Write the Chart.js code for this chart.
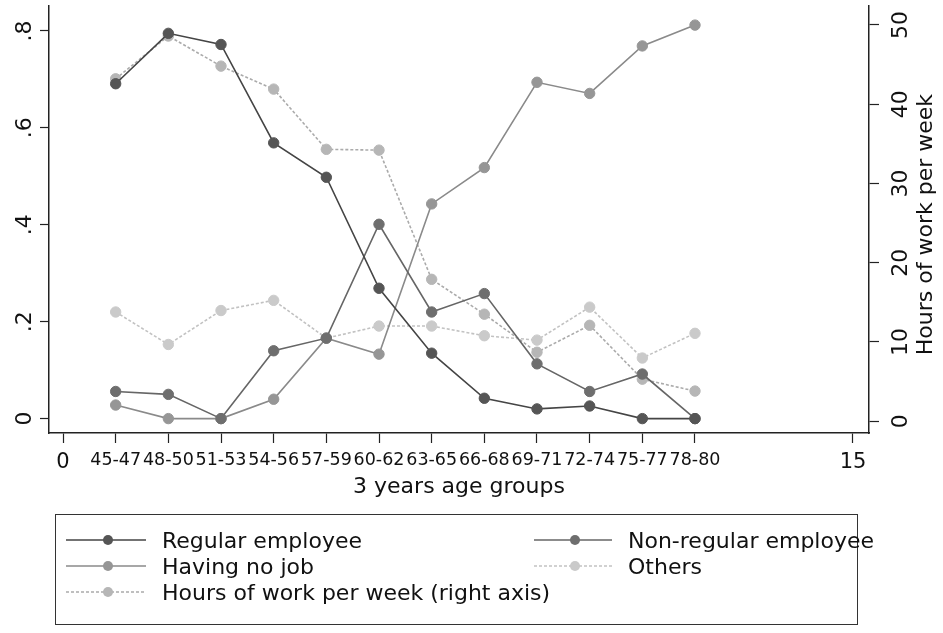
<!DOCTYPE html>
<html>
<head>
<meta charset="utf-8">
<script src="https://cdn.jsdelivr.net/npm/chart.js@4.4.1/dist/chart.umd.min.js"></script>
<style>
  html, body { margin:0; padding:0; background:#fff; }
  #wrap { position:relative; width:943px; height:633px; overflow:hidden; }
  #grafica { position:absolute; left:0; top:0; }
  #leyenda { position:absolute; left:55px; top:514px; width:803px; height:111px; border:1.5px solid #333;
             box-sizing:border-box; font-family:"DejaVu Sans"; font-size:22px; color:#111; }
  #leyenda .item { position:absolute; height:26px; display:flex; align-items:center; white-space:nowrap; }
  #leyenda svg { margin-right:16px; }
</style>
</head>
<body>
<div id="wrap">
  <canvas id="grafica" width="943" height="633"></canvas>
  <div id="leyenda"></div>
</div>
<script>
// datos
const gruposEdad = ['45-47','48-50','51-53','54-56','57-59','60-62','63-65','66-68','69-71','72-74','75-77','78-80'];
const regular    = [0.691, 0.795, 0.772, 0.569, 0.498, 0.269, 0.135, 0.042, 0.020, 0.026, 0.000, 0.000];
const noRegular  = [0.056, 0.050, 0.000, 0.140, 0.166, 0.401, 0.220, 0.258, 0.113, 0.056, 0.092, 0.000];
const sinTrabajo = [0.028, 0.000, 0.000, 0.040, 0.166, 0.133, 0.443, 0.518, 0.694, 0.671, 0.769, 0.812];
const otros      = [0.220, 0.153, 0.223, 0.244, 0.166, 0.191, 0.191, 0.171, 0.162, 0.230, 0.125, 0.176];
const horas      = [43.2, 48.6, 44.8, 41.9, 34.3, 34.2, 17.9, 13.5, 8.7, 12.1, 5.3, 3.8];

const ticksX = [0, 1, 2, 3, 4, 5, 6, 7, 8, 9, 10, 11, 12, 15];
const ticksIzq = [0, 0.2, 0.4, 0.6, 0.8];
const etiquetasIzq = ['0', '.2', '.4', '.6', '.8'];
const ticksDer = [0, 10, 20, 30, 40, 50];

const puntos = arr => arr.map((v, i) => ({x: i + 1, y: v}));

function serie(nombre, valores, linea, punto, dash, eje){
    return {
        label: nombre,
        data: puntos(valores),
        yAxisID: eje || 'y',
        borderColor: linea,
        borderWidth: 1.6,
        borderDash: dash || [],
        pointBackgroundColor: punto,
        pointBorderColor: punto,
        pointBorderWidth: 1,
        pointRadius: 5.2,
        tension: 0
    };
}

const series = [
    serie('Regular employee', regular, '#454545', '#555555'),
    serie('Non-regular employee', noRegular, '#666666', '#6e6e6e'),
    serie('Having no job', sinTrabajo, '#8a8a8a', '#969696'),
    serie('Others', otros, '#c2c2c2', '#cacaca', [3, 2]),
    serie('Hours of work per week (right axis)', horas, '#ababab', '#b6b6b6', [3, 2], 'y1')
];

function girado(ctx, s, x, y){
    ctx.save();
    ctx.translate(x, y);
    ctx.rotate(-Math.PI / 2);
    ctx.fillText(s, 0, 0);
    ctx.restore();
}

// etiquetas verticales de los ejes y (Chart.js no rota ticks verticales)
const etiquetasGiradas = {
    id: 'etiquetasGiradas',
    afterDraw(chart){
        const ctx = chart.ctx;
        ctx.save();
        ctx.fillStyle = '#111';
        ctx.textAlign = 'center';
        ctx.textBaseline = 'alphabetic';
        ctx.font = '22px "DejaVu Sans"';
        const izq = chart.scales.y;
        izq.ticks.forEach((t, i) => girado(ctx, etiquetasIzq[i], 31, izq.getPixelForValue(t.value)));
        const der = chart.scales.y1;
        der.ticks.forEach(t => girado(ctx, String(t.value), 907, der.getPixelForValue(t.value)));
        girado(ctx, 'Hours of work per week', 932, (chart.chartArea.top + chart.chartArea.bottom) / 2 + 5);
        ctx.restore();
    }
};

const rejilla = {display: true, drawOnChartArea: false, drawTicks: true, tickLength: 10, tickColor: '#222', tickWidth: 1.2};
const borde = {display: true, color: '#222', width: 1.5};

const ctx = document.getElementById('grafica').getContext('2d');
const grafica = new Chart(ctx, {
    type: 'line',
    data: { datasets: series },
    options: {
        responsive: false,
        maintainAspectRatio: false,
        animation: false,
        layout: { padding: 0 },
        plugins: { legend: { display: false }, tooltip: { enabled: false } },
        scales: {
            x: {
                type: 'linear',
                position: 'bottom',
                min: -0.266,
                max: 15.304,
                afterBuildTicks: ax => { ax.ticks = ticksX.map(v => ({value: v})); },
                afterFit: ax => { ax.height = 200; },
                grid: rejilla,
                border: borde,
                ticks: {
                    autoSkip: false,
                    maxRotation: 0,
                    minRotation: 0,
                    padding: 7,
                    color: '#111',
                    font: c => ({ family: 'DejaVu Sans', size: (c.tick && (c.tick.value === 0 || c.tick.value === 15)) ? 21 : 17.5 }),
                    callback: v => (v === 0 || v === 15) ? String(v) : gruposEdad[v - 1]
                },
                title: {
                    display: true,
                    text: '3 years age groups',
                    color: '#111',
                    font: { family: 'DejaVu Sans', size: 22 },
                    padding: { top: 0, bottom: 133 }
                }
            },
            y: {
                type: 'linear',
                position: 'left',
                min: -0.0297,
                max: 0.851,
                afterBuildTicks: ax => { ax.ticks = ticksIzq.map(v => ({value: v})); },
                afterFit: ax => { ax.width = 49; },
                grid: Object.assign({}, rejilla, {tickLength: 9}),
                border: borde,
                ticks: { display: false }
            },
            y1: {
                type: 'linear',
                position: 'right',
                min: -1.49,
                max: 52.36,
                afterBuildTicks: ax => { ax.ticks = ticksDer.map(v => ({value: v})); },
                afterFit: ax => { ax.width = 74; },
                grid: rejilla,
                border: borde,
                ticks: { display: false }
            }
        }
    },
    plugins: [etiquetasGiradas]
});

// leyenda en html, armada desde los datasets
(function(){
    const leyenda = document.getElementById('leyenda');
    const posiciones = [[10, 12], [478, 12], [10, 38], [478, 38], [10, 64]];
    series.forEach((s, i) => {
        const ancho = i % 2 === 0 ? 80 : 78;
        const div = document.createElement('div');
        div.className = 'item';
        div.style.left = posiciones[i][0] + 'px';
        div.style.top = posiciones[i][1] + 'px';
        const dash = s.borderDash.length ? ` stroke-dasharray="${s.borderDash.join(' ')}"` : '';
        div.innerHTML = `<svg width="${ancho}" height="14"><line x1="0" y1="7" x2="${ancho}" y2="7" stroke="${s.borderColor}" stroke-width="1.6"${dash}/>` +
            `<circle cx="${ancho/2 + 2}" cy="7" r="5" fill="${s.pointBackgroundColor}"/></svg><span>${s.label}</span>`;
        leyenda.appendChild(div);
    });
})();
</script>
</body>
</html>
